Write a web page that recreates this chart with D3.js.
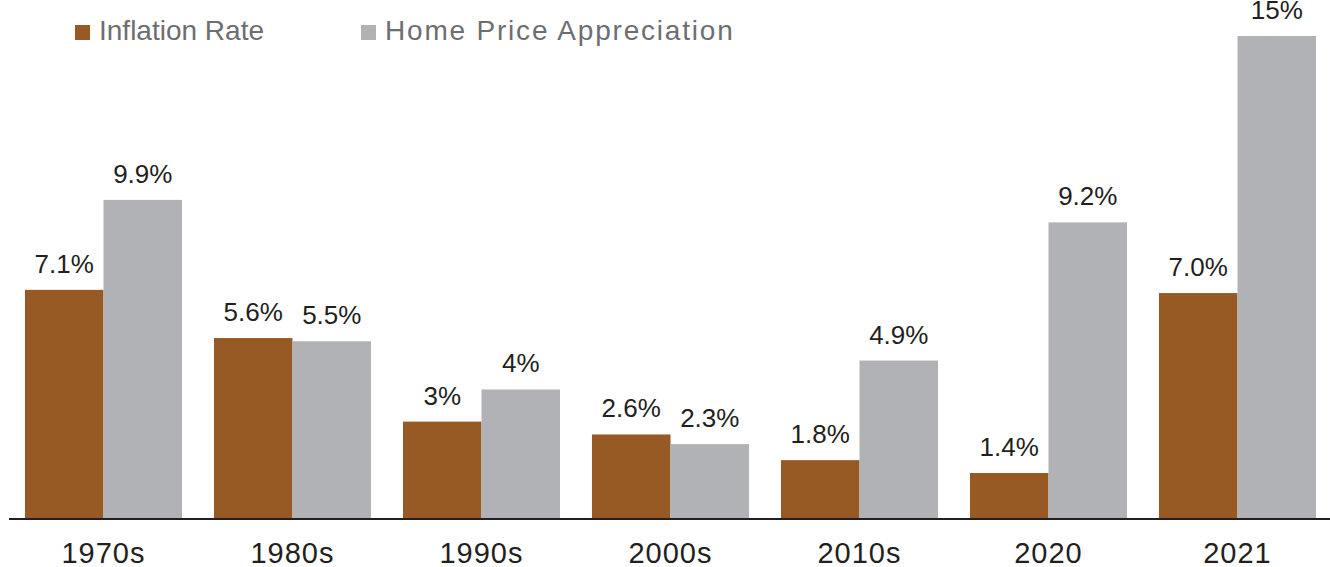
<!DOCTYPE html>
<meta charset="utf-8">
<script src="https://d3js.org/d3.v7.min.js"></script>
<style>
  body { margin: 0; background: #fff; }
  text { font-family: "Liberation Sans", Arial, sans-serif; }
</style>
<div id="chart"></div>
<script>
// data
var periods = ["1970s", "1980s", "1990s", "2000s", "2010s", "2020", "2021"];
var inflation = [7.1, 5.6, 3, 2.6, 1.8, 1.4, 7.0];
var homePrice = [9.9, 5.5, 4, 2.3, 4.9, 9.2, 15];
var inflationLabels = ["7.1%", "5.6%", "3%", "2.6%", "1.8%", "1.4%", "7.0%"];
var homeLabels = ["9.9%", "5.5%", "4%", "2.3%", "4.9%", "9.2%", "15%"];
var seriesNames = ["Inflation Rate", "Home Price Appreciation"];

var width = 1330, height = 567;
var colors = ["#975a24", "#b1b2b6"];

var svg = d3.select("#chart").append("svg")
  .attr("width", width)
  .attr("height", height);

var x = d3.scaleBand()
  .domain(periods)
  .range([9, 1332])
  .paddingInner(0.169)
  .paddingOuter(0.0845);

var sub = d3.scaleBand()
  .domain([0, 1])
  .range([0, x.bandwidth()]);

var y = d3.scaleLinear()
  .domain([0, 15])
  .range([518, 36]);

var rows = periods.map(function(p, i) {
  return {period: p, vals: [
    {s: 0, v: inflation[i], label: inflationLabels[i]},
    {s: 1, v: homePrice[i], label: homeLabels[i]}
  ]};
});

var group = svg.selectAll("g.grp")
  .data(rows)
  .enter().append("g")
  .attr("class", "grp")
  .attr("transform", function(d) { return "translate(" + x(d.period) + ",0)"; });

group.selectAll("rect")
  .data(function(d) { return d.vals; })
  .enter().append("rect")
  .attr("x", function(d) { return sub(d.s); })
  .attr("width", sub.bandwidth())
  .attr("y", function(d) { return y(d.v); })
  .attr("height", function(d) { return y(0) - y(d.v); })
  .attr("fill", function(d) { return colors[d.s]; });

group.selectAll("text.val")
  .data(function(d) { return d.vals; })
  .enter().append("text")
  .attr("class", "val")
  .attr("x", function(d) { return sub(d.s) + sub.bandwidth() / 2; })
  .attr("y", function(d) { return y(d.v) - 17; })
  .attr("text-anchor", "middle")
  .attr("font-size", "26px")
  .attr("fill", "#231f20")
  .text(function(d) { return d.label; });

// baseline
svg.append("line")
  .attr("x1", 9).attr("x2", width)
  .attr("y1", y(0) + 1).attr("y2", y(0) + 1)
  .attr("stroke", "#231f20")
  .attr("stroke-width", 2);

// category labels
svg.selectAll("text.cat")
  .data(periods)
  .enter().append("text")
  .attr("class", "cat")
  .attr("x", function(d) { return x(d) + x.bandwidth() / 2; })
  .attr("y", 563)
  .attr("text-anchor", "middle")
  .attr("font-size", "29px")
  .attr("letter-spacing", "1px")
  .attr("fill", "#231f20")
  .text(function(d) { return d; });

// legend
var legX = [75, 361];
var leg = svg.selectAll("g.leg")
  .data(seriesNames)
  .enter().append("g")
  .attr("class", "leg")
  .attr("transform", function(d, i) { return "translate(" + legX[i] + ",0)"; });

leg.append("rect")
  .attr("x", 0).attr("y", 25)
  .attr("width", 15).attr("height", 15)
  .attr("fill", function(d, i) { return colors[i]; });

leg.append("text")
  .attr("x", 24)
  .attr("y", 40)
  .attr("font-size", "28px")
  .attr("fill", "#6d6e71")
  .attr("letter-spacing", function(d, i) { return i == 1 ? "1.8px" : "0px"; })
  .text(function(d) { return d; });
</script>
